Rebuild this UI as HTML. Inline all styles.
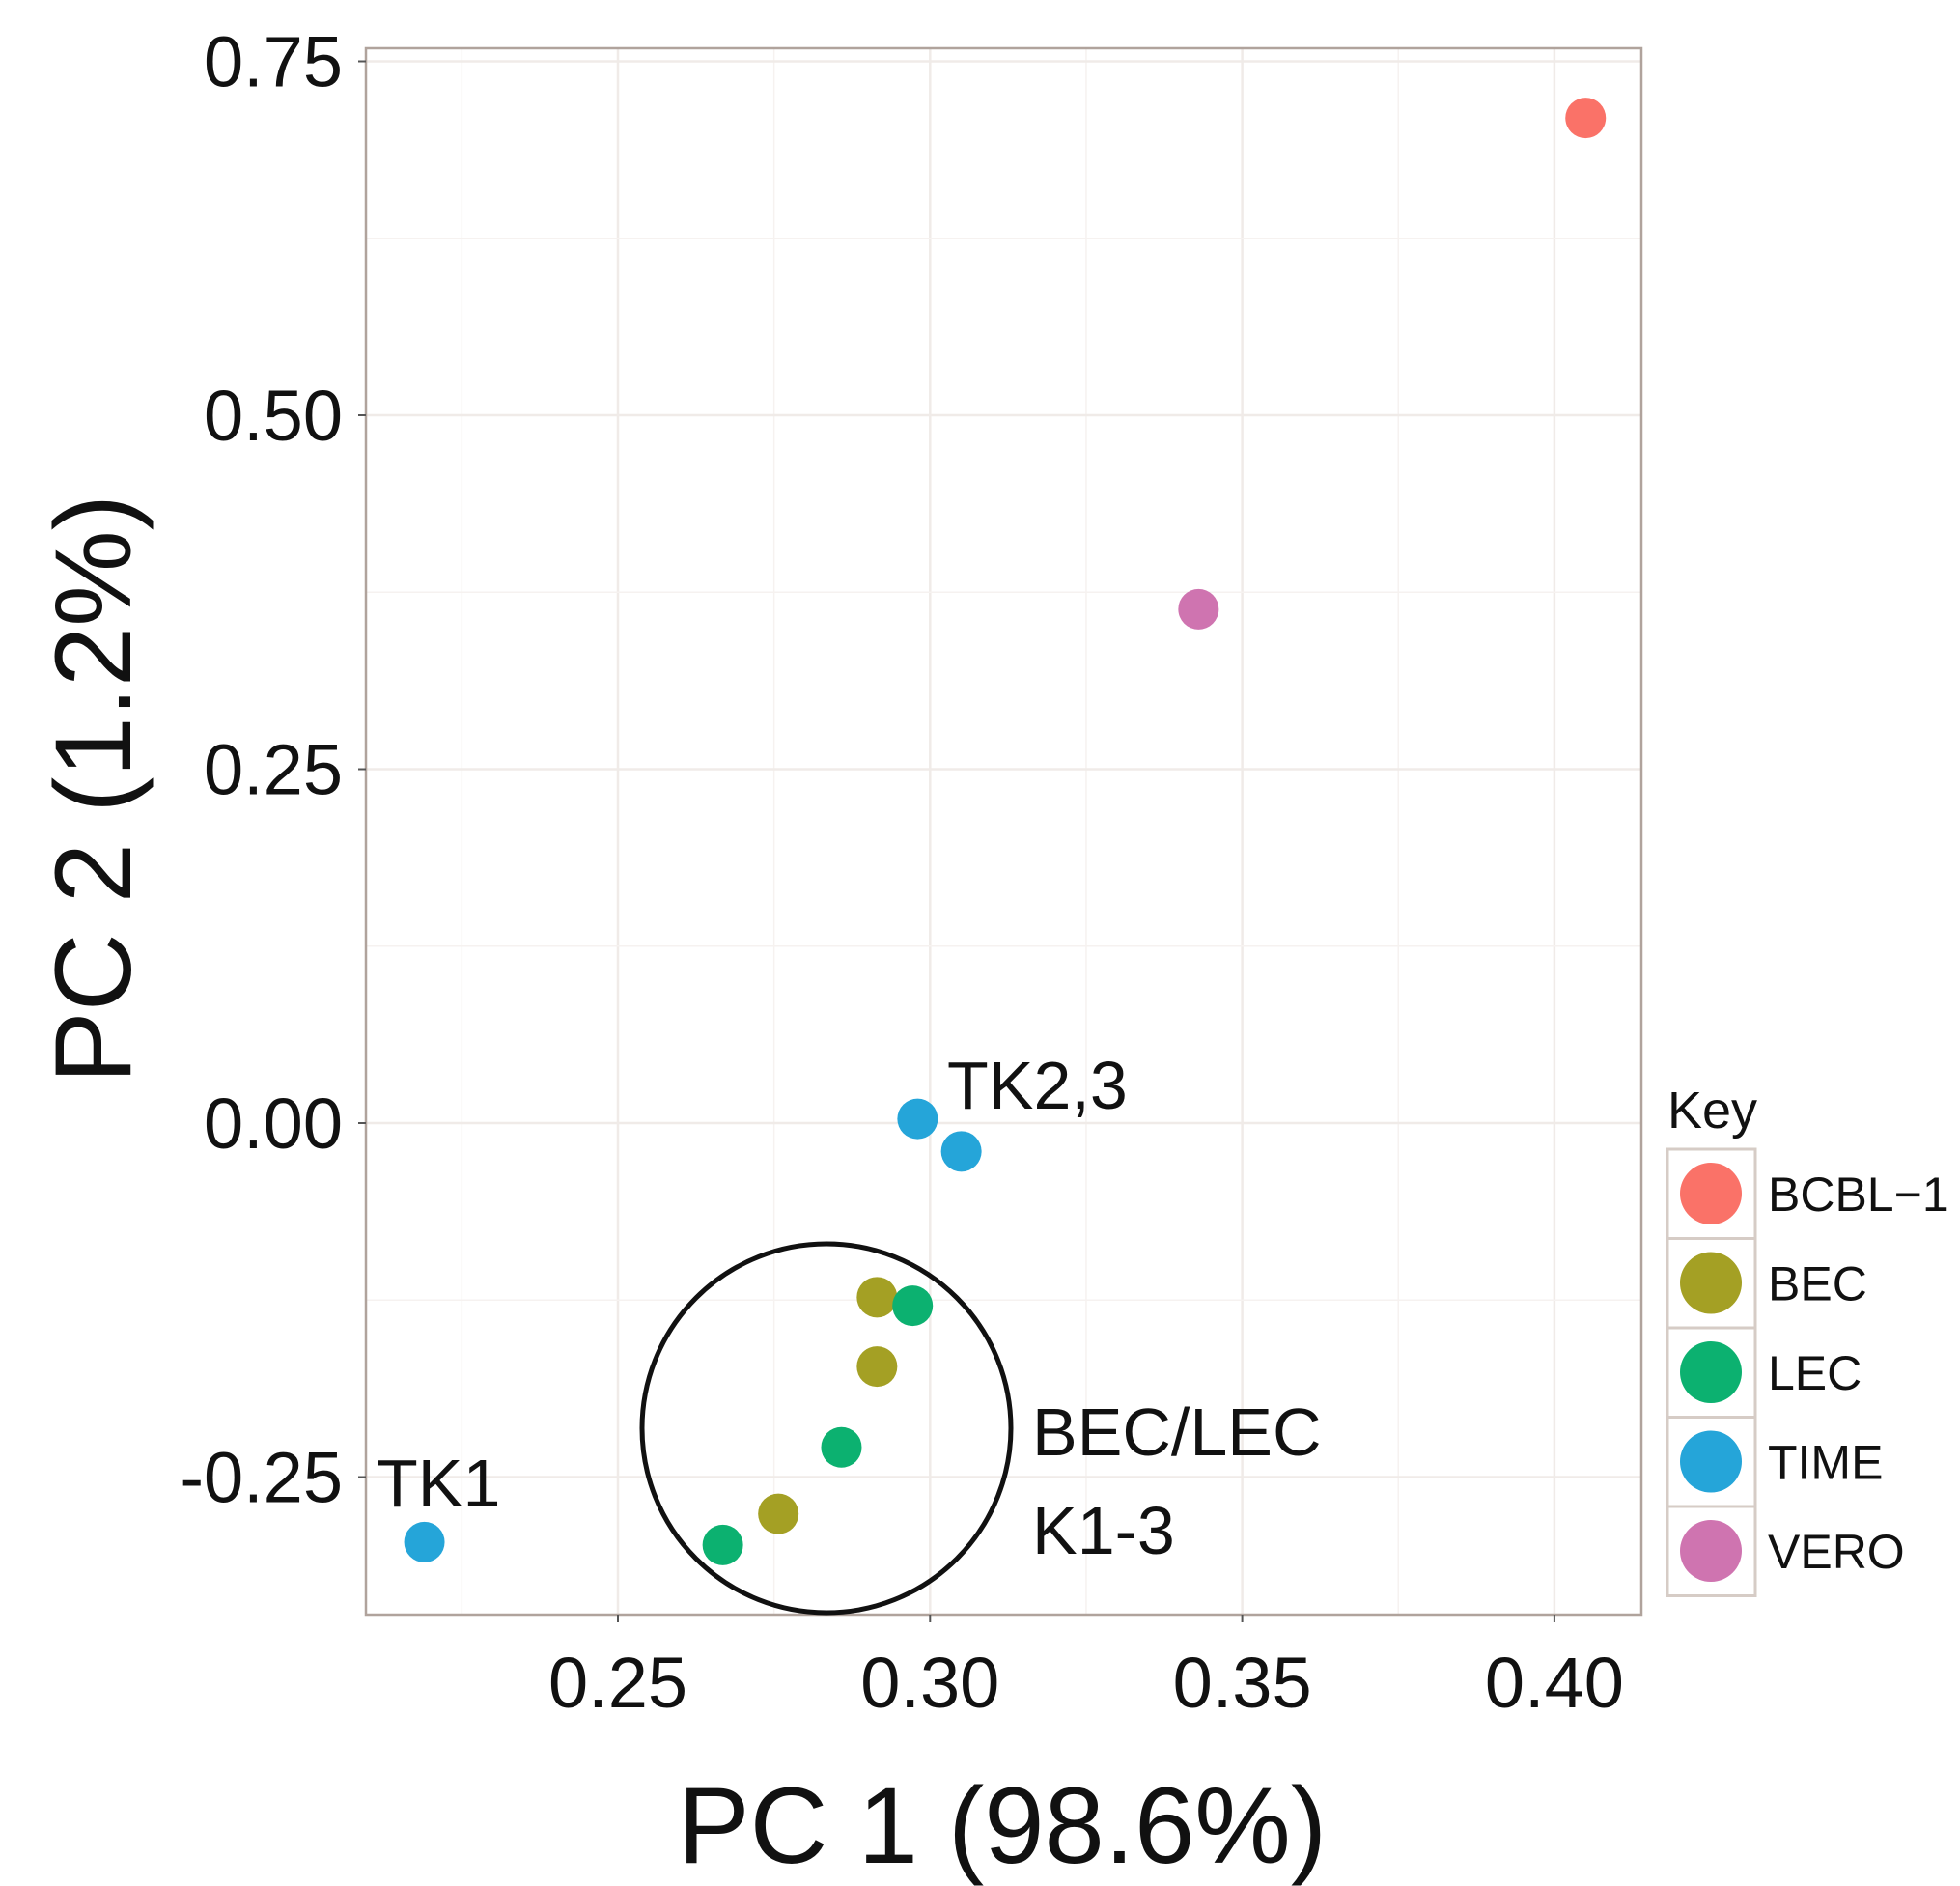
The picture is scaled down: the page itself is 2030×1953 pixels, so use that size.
<!DOCTYPE html>
<html><head><meta charset="utf-8"><style>
html,body{margin:0;padding:0;background:#fff;}
svg{display:block;font-family:"Liberation Sans",sans-serif;}
</style></head><body>
<svg id="chart" width="2030" height="1953" viewBox="0 0 2030 1953"></svg>
<script>
const xTicks=[0.25,0.30,0.35,0.40];
const xTickLabels=["0.25","0.30","0.35","0.40"];
const yTicks=[0.75,0.50,0.25,0.00,-0.25];
const yTickLabels=["0.75","0.50","0.25","0.00","-0.25"];
const groups=["BCBL-1","BEC","LEC","TIME","VERO"];
const colors=["#f8766d","#a3a500","#00bf7d","#00b0f6","#e76bf3"];
const pointX=[0.405,0.2915,0.2915,0.2757,0.2972,0.2858,0.2668,0.298,0.305,0.219,0.343];
const pointY=[0.71,-0.123,-0.172,-0.276,-0.129,-0.229,-0.298,0.003,-0.020,-0.296,0.363];
const pointGroup=[0,1,1,1,2,2,2,3,3,3,4];

const NS="http://www.w3.org/2000/svg";
const svg=document.getElementById('chart');
const L=379,T=50,R=1700,B=1672;
function sx(v){return 640+(v-0.25)/0.05*323.3;}
function sy(v){return 1163-v/0.25*366.5;}
function mk(tag,attrs,parent){const e=document.createElementNS(NS,tag);for(const k in attrs)e.setAttribute(k,attrs[k]);(parent||svg).appendChild(e);return e;}
const realColors=["#fa7268","#a4a024","#0cb170","#25a5d9","#cf74b0"];

const bg=mk('rect',{x:L,y:T,width:R-L,height:B-T,fill:'#fff'});


// gridlines
const gridVals=[];
for(let i=0;i<xTicks.length;i++){gridVals.push(xTicks[i]);}
const minorX=[xTicks[0]-0.025].concat(xTicks.map(v=>v+0.025));
minorX.forEach(v=>{const xx=sx(v);if(xx>L&&xx<R){const g=mk('line',{x1:xx,x2:xx,y1:T,y2:B,stroke:'#f6f2f0','stroke-width':1.5});

}});
xTicks.forEach(v=>{const g=mk('line',{x1:sx(v),x2:sx(v),y1:T,y2:B,stroke:'#f0ebe8','stroke-width':2.5});

});
yTicks.forEach(v=>{[v,v-0.125].forEach((w,j)=>{const yy=sy(w);if(yy>T&&yy<B){const g=mk('line',{x1:L,x2:R,y1:yy,y2:yy,stroke:j?'#f6f2f0':'#f0ebe8','stroke-width':j?1.5:2.5});

}});});
const br=mk('rect',{x:L,y:T,width:R-L,height:B-T,fill:'none',stroke:'#b0a39c','stroke-width':2.5});


// ticks & labels
xTicks.forEach((v,i)=>{mk('line',{x1:sx(v),x2:sx(v),y1:B,y2:B+8,stroke:'#555','stroke-width':2});
const t=mk('text',{x:sx(v),y:1768,'font-size':74,'text-anchor':'middle',fill:'#111'});t.textContent=xTickLabels[i];

});
yTicks.forEach((v,i)=>{mk('line',{x1:L-8,x2:L,y1:sy(v),y2:sy(v),stroke:'#555','stroke-width':2});
const t=mk('text',{x:355,y:sy(v)+26,'font-size':74,'text-anchor':'end',fill:'#111'});t.textContent=yTickLabels[i];

});
// axis titles
const xt=mk('text',{x:1038,y:1929,'font-size':112,'text-anchor':'middle',fill:'#111'});xt.textContent='PC 1 (98.6%)';


const yt=mk('text',{x:0,y:0,'font-size':112,'text-anchor':'middle',fill:'#111',transform:'translate(135,817) rotate(-90)'});yt.textContent='PC 2 (1.2%)';


// points
pointX.forEach((v,i)=>{const c=mk('circle',{cx:sx(v),cy:sy(pointY[i]),r:21,fill:realColors[pointGroup[i]]});

});
// annotation
const ac=mk('circle',{cx:856,cy:1479,r:191,fill:'none',stroke:'#111','stroke-width':5});


[['TK2,3',981,1148,'label-tk23'],['TK1',390,1560,'label-tk1'],['BEC/LEC',1069,1507,'label-bec-lec'],['K1-3',1069,1609,'label-k1-3']].forEach(a=>{
const t=mk('text',{x:a[1],y:a[2],'font-size':70,fill:'#111'});t.textContent=a[0];

});
// legend
const kt=mk('text',{x:1727,y:1168,'font-size':54,fill:'#111'});kt.textContent='Key';


groups.forEach((g,i)=>{const y0=1190+i*92.5;
const r=mk('rect',{x:1727,y:y0,width:91,height:92.5,fill:'#fff',stroke:'#d6ccc6','stroke-width':3});


const c=mk('circle',{cx:1772,cy:y0+46,r:32,fill:realColors[i]});


const t=mk('text',{x:1831,y:y0+64,'font-size':50,fill:'#111'});t.textContent=g==='BCBL-1'?'BCBL\u22121':g;

});
</script>
</body></html>
